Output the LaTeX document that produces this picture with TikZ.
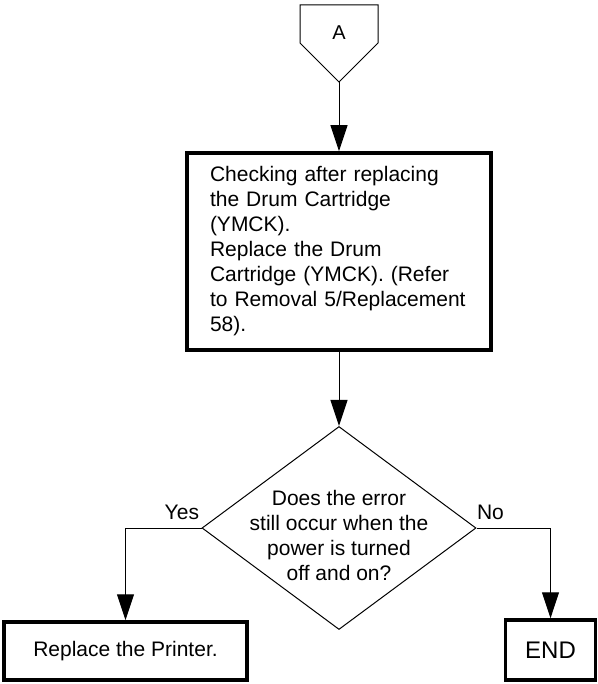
\documentclass[tikz,border=0pt]{standalone}
\usepackage{fontspec}
\setmainfont{Liberation Sans}
\usetikzlibrary{shapes.geometric, arrows.meta, positioning}

\begin{document}
\begin{tikzpicture}[x=1pt, y=-1pt,
            stepbox/.style={draw, line width=3.5pt, inner xsep=0pt, align=left, text width=258pt, minimum width=304pt, minimum height=197pt, font=\fontsize{21}{25}\selectfont},
            endbox/.style={draw, line width=3.5pt, minimum height=58pt, font=\fontsize{21}{25}\selectfont},
            decision/.style={draw, diamond, line width=1pt, minimum width=274pt, minimum height=203pt, inner sep=0pt},
            offpage/.style={draw, line width=1pt},
            arrow/.style={-{Triangle[length=26pt, width=17pt]}, line width=1pt},
            lbl/.style={font=\fontsize{21}{25}\selectfont}
        ]
            \useasboundingbox (0,0) rectangle (597,684);

            % off-page connector
            \draw[offpage] (300,5) -- (378,5) -- (378,43) -- (339,82) -- (300,43) -- cycle;
            \node[lbl, font=\fontsize{20}{24}\selectfont] (conA) at (339,33) {A};
            \coordinate (conA-tip) at (339,82);

            \node[stepbox] (drum) at (339,251.5) {Checking after replacing\\the Drum Cartridge\\(YMCK).\\Replace the Drum\\Cartridge (YMCK). (Refer\\to Removal 5/Replacement\\58).};

            \node[decision] (check) at (339,528) {};
            \node[lbl, align=center] (question) at (339,535) {Does the error\\still occur when the\\power is turned\\off and on?};

            \node[endbox, minimum width=243pt] (printer) at (125.5,651) {Replace the Printer.};
            \node[endbox, minimum width=90pt, minimum height=60pt, font=\fontsize{24}{28}\selectfont] (end) at (550.5,650) {END};

            \draw[arrow] (conA-tip) -- (drum);
            \draw[arrow] (drum) -- (check);
            \draw[arrow] (check.west) -| node[pos=0, lbl, above left, inner xsep=2pt, inner ysep=8pt] {Yes} (printer.north);
            \draw[arrow] (check.east) -| node[pos=0, lbl, above right, inner xsep=0pt, inner ysep=8pt] {No} (end.north);
        \end{tikzpicture}
\end{document}
